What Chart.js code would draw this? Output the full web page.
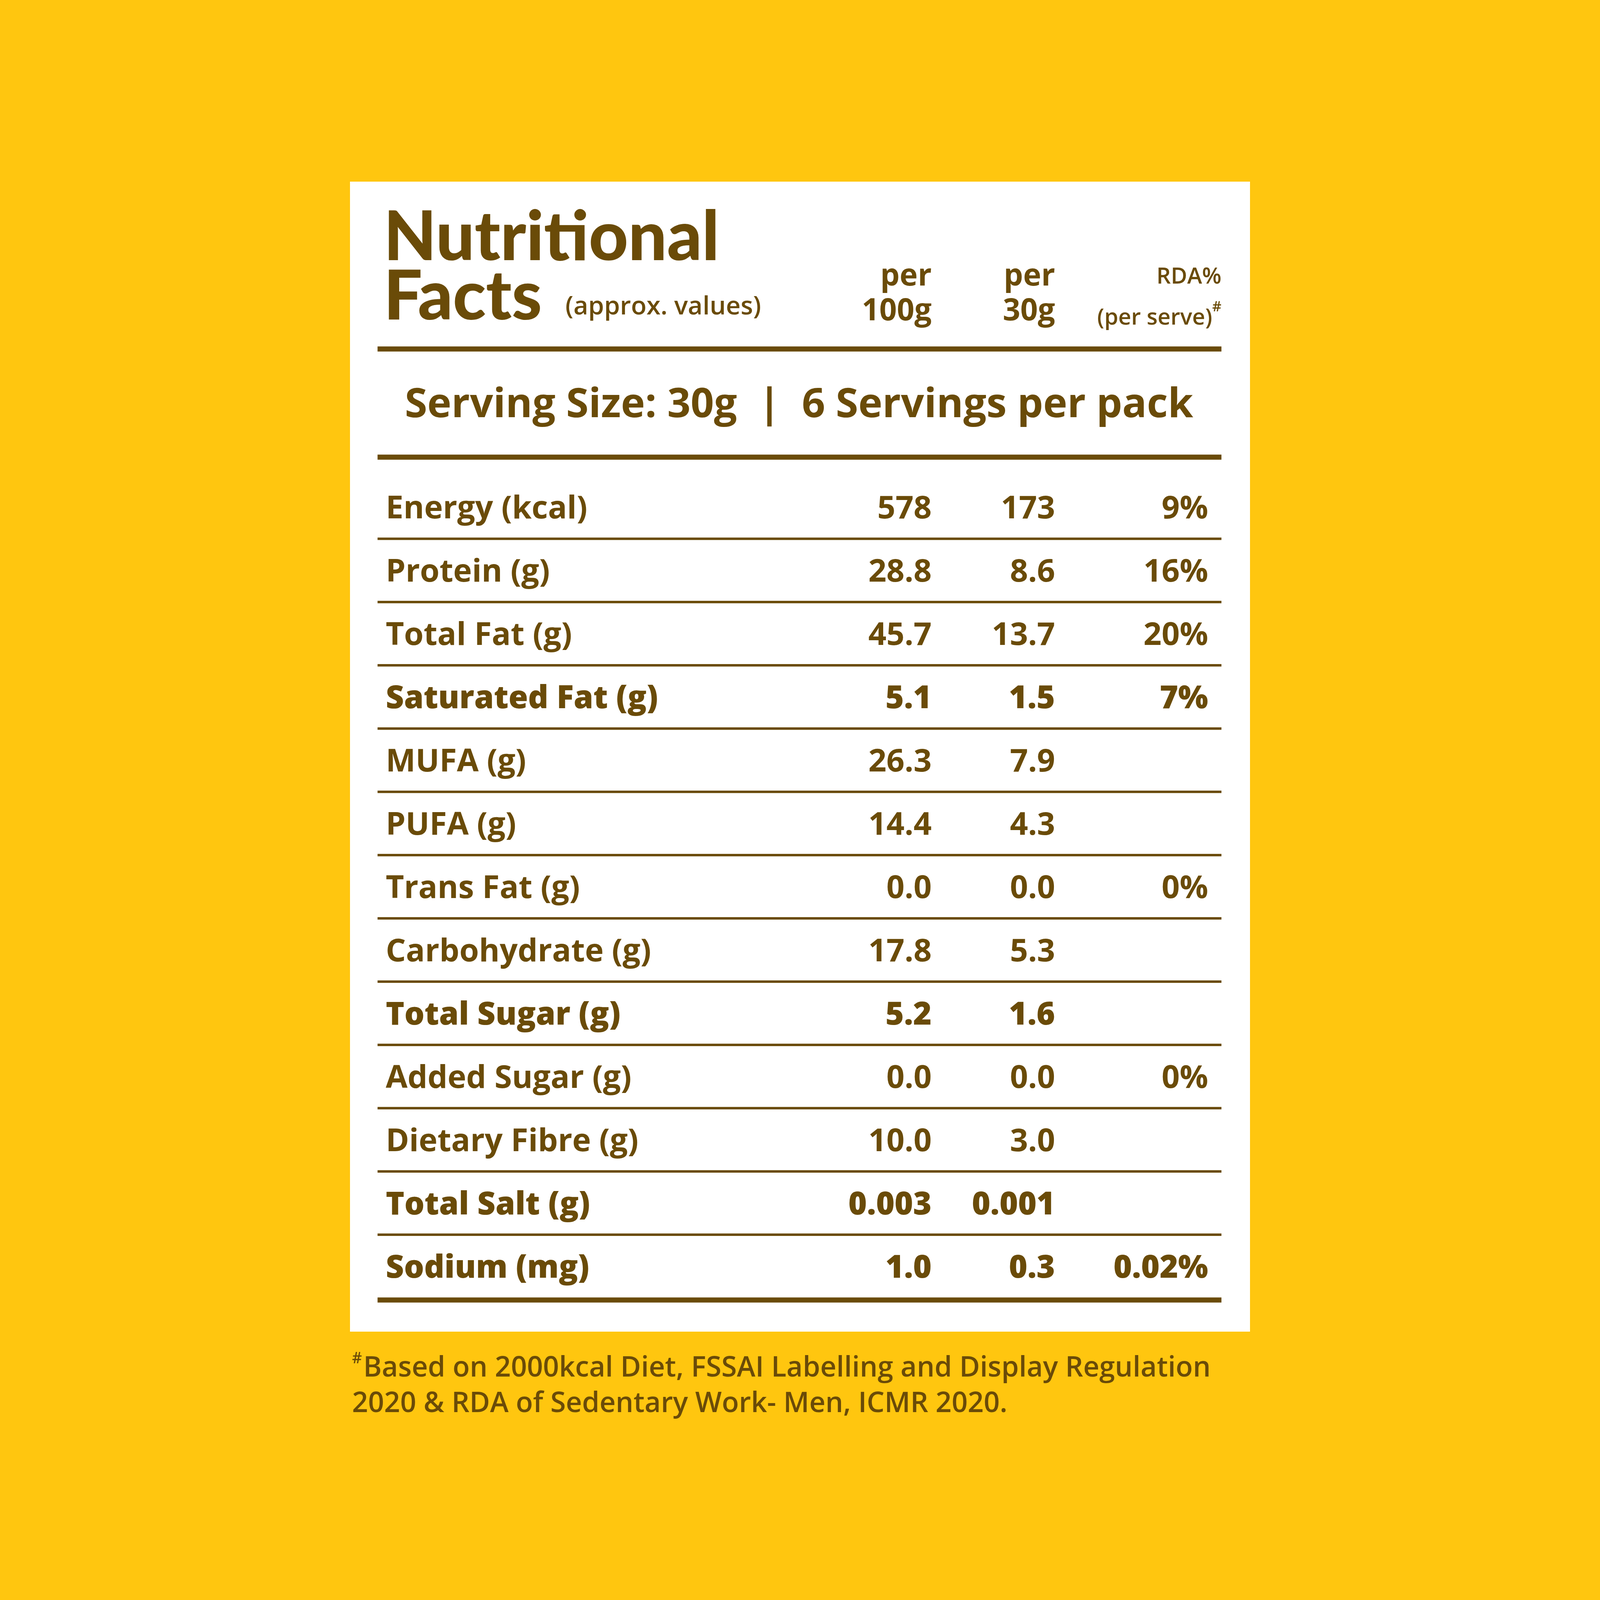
<!DOCTYPE html>
<html>
<head>
<meta charset="utf-8">
<script src="https://cdn.jsdelivr.net/npm/chart.js@4"></script>
<style>
  html, body { margin: 0; padding: 0; background: #FFC60F; overflow: hidden; }
  canvas { display: block; }
</style>
</head>
<body>
<canvas id="facts"></canvas>
<script>
  // данные таблицы
  const nutrients = [
    "Energy (kcal)", "Protein (g)", "Total Fat (g)", "Saturated Fat (g)",
    "MUFA (g)", "PUFA (g)", "Trans Fat (g)", "Carbohydrate (g)",
    "Total Sugar (g)", "Added Sugar (g)", "Dietary Fibre (g)",
    "Total Salt (g)", "Sodium (mg)",
  ];
  const per100g = ["578", "28.8", "45.7", "5.1", "26.3", "14.4", "0.0", "17.8", "5.2", "0.0", "10.0", "0.003", "1.0"];
  const per30g = ["173", "8.6", "13.7", "1.5", "7.9", "4.3", "0.0", "5.3", "1.6", "0.0", "3.0", "0.001", "0.3"];
  const rdaPct = ["9%", "16%", "20%", "7%", "", "", "0%", "", "", "0%", "", "", "0.02%"];
  const boldRows = ["Saturated Fat (g)", "Total Sugar (g)", "Total Salt (g)", "Sodium (mg)"];

  const BROWN = "#6A4B08";
  const YELLOW = "#FFC60F";
  const SIZE = Math.min(window.innerWidth, window.innerHeight);
  const K = SIZE / 1568; // масштаб от исходной картинки

  const canvas = document.getElementById("facts");
  canvas.width = SIZE;
  canvas.height = SIZE;
  canvas.style.width = SIZE + "px";
  canvas.style.height = SIZE + "px";

  const tablePlugin = {
    id: "tablePlugin",
    beforeDraw(chart) {
      const c = chart.ctx;
      c.save();
      c.fillStyle = YELLOW;
      c.fillRect(0, 0, chart.width, chart.height);
      c.fillStyle = "#FFFFFF";
      c.fillRect(343 * K, 178 * K, (1225 - 343) * K, (1305 - 178) * K);
      c.restore();
    },
    afterDraw(chart) {
      const c = chart.ctx;
      const x = chart.scales.x;
      const y = chart.scales.y;
      const X = (v) => x.getPixelForValue(v);
      c.save();
      c.fillStyle = BROWN;
      c.strokeStyle = BROWN;
      c.textBaseline = "alphabetic";

      // заголовок
      c.font = "900 " + 67 * K + "px Lato";
      c.textAlign = "left";
      c.fillText("Nutritional", X(376), 255 * K);
      c.fillText("Facts", X(376), 313 * K);
      c.font = "600 " + 25 * K + "px 'Open Sans'";
      c.fillText("(approx. values)", X(554), 308 * K);

      c.textAlign = "right";
      c.font = "700 " + 30 * K + "px 'Open Sans'";
      c.fillText("per", X(913), 280 * K);
      c.fillText("100g", X(913), 314 * K);
      c.fillText("per", X(1034), 280 * K);
      c.fillText("30g", X(1034), 314 * K);
      c.font = "600 " + 22 * K + "px 'Open Sans'";
      c.fillText("RDA%", X(1197), 278 * K);
      c.fillText("(per serve)", X(1188), 318 * K);
      c.font = "600 " + 14 * K + "px 'Open Sans'";
      c.fillText("#", X(1197), 305 * K);

      // толстые линии
      const rule = (yy) => {
        c.fillRect(X(370), (yy - 2.5) * K, X(1197) - X(370), 5 * K);
      };
      rule(342);
      rule(448);

      c.textAlign = "center";
      c.font = "700 " + 40 * K + "px 'Open Sans'";
      c.fillText("Serving Size: 30g  |  6 Servings per pack", X(783), 409 * K);

      // строки таблицы
      const n = nutrients.length;
      for (let i = 0; i < n; i++) {
        const py = y.getPixelForValue(i) + 11 * K;
        const bold = boldRows.includes(nutrients[i]);
        c.font = (bold ? "800 " : "700 ") + 31 * K + "px 'Open Sans'";
        c.textAlign = "left";
        c.fillText(nutrients[i], X(378), py);
        c.textAlign = "right";
        c.fillText(per100g[i], X(913), py);
        c.fillText(per30g[i], X(1034), py);
        c.fillText(rdaPct[i], X(1184), py);
        if (i < n - 1) {
          const sy = (y.getPixelForValue(i) + y.getPixelForValue(i + 1)) / 2;
          c.fillRect(X(370), sy - 1.2 * K, X(1197) - X(370), 2.4 * K);
        }
      }
      const last = y.getPixelForValue(n - 1) + 33 * K;
      c.fillRect(X(370), last - 2.5 * K, X(1197) - X(370), 5 * K);

      // сноска
      c.textAlign = "left";
      c.font = "600 " + 27.5 * K + "px 'Open Sans'";
      c.fillText("Based on 2000kcal Diet, FSSAI Labelling and Display Regulation", X(356), 1349 * K);
      c.fillText("2020 & RDA of Sedentary Work- Men, ICMR 2020.", X(345), 1384 * K);
      c.font = "600 " + 15 * K + "px 'Open Sans'";
      c.fillText("#", X(345), 1336 * K);
      c.restore();
    },
  };

  const ctx = canvas.getContext("2d");
  const factsChart = new Chart(ctx, {
    type: "bar",
    data: {
      labels: nutrients,
      datasets: [{ data: nutrients.map(() => null) }],
    },
    options: {
      responsive: false,
      animation: false,
      devicePixelRatio: 1,
      indexAxis: "y",
      layout: { padding: { top: 466 * K, bottom: SIZE - 1272 * K, left: 0, right: 0 } },
      scales: {
        x: { type: "linear", min: 0, max: 1568, display: false },
        y: { type: "category", offset: true, display: false },
      },
      plugins: { legend: { display: false }, tooltip: { enabled: false } },
    },
    plugins: [tablePlugin],
  });
</script>
</body>
</html>
